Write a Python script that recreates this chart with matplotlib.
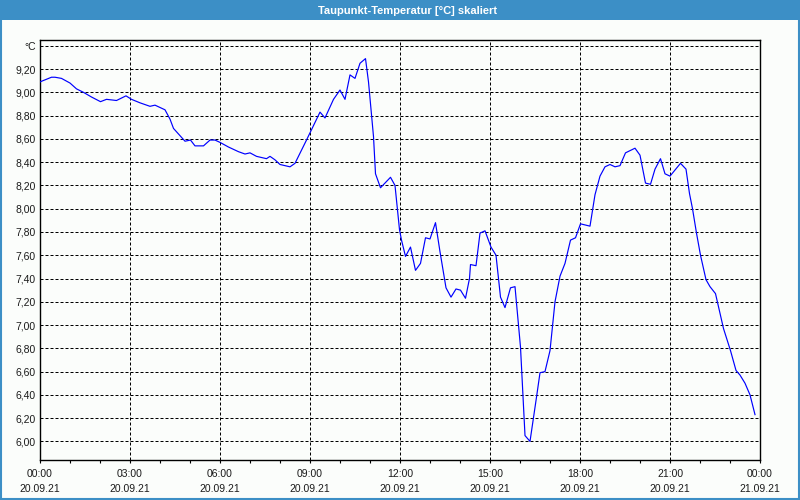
import numpy as np
import matplotlib
matplotlib.use("Agg")
import matplotlib.pyplot as plt
from matplotlib.patches import Rectangle
from matplotlib.ticker import FixedLocator, MultipleLocator

# Messzeitpunkte in Minuten ab 20.09.21 00:00
minuten = [0, 23, 30, 43, 60, 73, 87, 103, 121, 133, 153, 172, 183, 200, 220, 230,
           240, 250, 260, 267, 290, 301, 310, 327, 340, 350, 360, 377, 397, 410, 420,
           433, 453, 460, 470, 480, 500, 510, 533, 560, 570, 587, 600, 610, 620, 630,
           640, 651, 657, 667, 671, 681, 701, 710, 719, 723, 731, 741, 751, 761, 771,
           780, 791, 800, 812, 822, 832, 841, 851, 859, 861, 872, 880, 890, 902, 912,
           921, 930, 941, 950, 961, 970, 980, 993, 1000, 1010, 1020, 1030, 1040, 1050,
           1061, 1071, 1081, 1100, 1110, 1120, 1130, 1140, 1150, 1160, 1171, 1190, 1200,
           1211, 1221, 1230, 1241, 1250, 1260, 1281, 1292, 1299, 1305, 1313, 1321, 1332,
           1340, 1351, 1367, 1381, 1392, 1400, 1410, 1420, 1430]

# Taupunkt in °C
taupunkt = [9.09, 9.13, 9.13, 9.12, 9.08, 9.03, 9.00, 8.96, 8.92, 8.94, 8.93, 8.97, 8.94,
            8.91, 8.88, 8.89, 8.87, 8.85, 8.77, 8.69, 8.58, 8.59, 8.54, 8.54, 8.59, 8.59,
            8.57, 8.53, 8.49, 8.47, 8.48, 8.45, 8.43, 8.45, 8.42, 8.38, 8.36, 8.39, 8.59,
            8.83, 8.78, 8.94, 9.02, 8.94, 9.15, 9.12, 9.25, 9.29, 9.09, 8.62, 8.30, 8.18,
            8.27, 8.20, 7.82, 7.73, 7.59, 7.67, 7.47, 7.53, 7.75, 7.74, 7.88, 7.63, 7.32,
            7.24, 7.31, 7.30, 7.23, 7.40, 7.52, 7.51, 7.79, 7.81, 7.67, 7.60, 7.24, 7.15,
            7.32, 7.33, 6.81, 6.05, 6.00, 6.38, 6.59, 6.60, 6.78, 7.20, 7.42, 7.53, 7.73,
            7.75, 7.87, 7.85, 8.12, 8.28, 8.36, 8.38, 8.36, 8.37, 8.48, 8.52, 8.46, 8.22,
            8.21, 8.34, 8.43, 8.30, 8.28, 8.39, 8.34, 8.13, 8.00, 7.79, 7.60, 7.39, 7.33,
            7.27, 6.97, 6.78, 6.61, 6.57, 6.50, 6.40, 6.23]

y_ticks = [6.0, 6.2, 6.4, 6.6, 6.8, 7.0, 7.2, 7.4, 7.6, 7.8, 8.0, 8.2, 8.4, 8.6, 8.8,
           9.0, 9.2, 9.4]
x_tick_labels = ["00:00\n20.09.21", "03:00\n20.09.21", "06:00\n20.09.21",
                 "09:00\n20.09.21", "12:00\n20.09.21", "15:00\n20.09.21",
                 "18:00\n20.09.21", "21:00\n20.09.21", "00:00\n21.09.21"]

titel = "Taupunkt-Temperatur [°C] skaliert"

# Farben
bar_blue = '#3c8fc6'
bg_color = '#fbfdfb'
text_color = '#1a1a1a'

plt.rcParams['font.family'] = ['Liberation Sans', 'DejaVu Sans']

fig = plt.figure(figsize=(8, 5), dpi=100)
fig.patch.set_facecolor(bg_color)

# Titelleiste und Rahmen
fig.patches.append(Rectangle((0, 0.96), 1, 0.04, transform=fig.transFigure,
                             facecolor=bar_blue, edgecolor='none', zorder=0))
fig.patches.append(Rectangle((0.001, 0.002), 0.998, 0.997, transform=fig.transFigure,
                             facecolor='none', edgecolor=bar_blue, linewidth=1.5, zorder=1))
fig.text(0.51, 0.979, titel, color='white', fontsize=8, fontweight='bold',
         ha='center', va='center')

ax = fig.add_axes([0.05, 0.08, 0.90, 0.84])
ax.set_facecolor(bg_color)

stunden = np.array(minuten) / 60.0
ax.plot(stunden, taupunkt, color='#0000ff', linewidth=0.85, zorder=3)

ax.set_xlim(0, 24)
ax.set_ylim(5.84, 9.45)

# Achsen
ax.xaxis.set_major_locator(FixedLocator(np.arange(0, 25, 3)))
ax.xaxis.set_minor_locator(MultipleLocator(1))
ax.set_xticklabels(x_tick_labels, linespacing=1.65)
ax.set_yticks(y_ticks)
ax.set_yticklabels([f"{v:.2f}".replace('.', ',') for v in y_ticks[:-1]] + ["°C"])

ax.tick_params(axis='x', which='both', direction='out', length=2.5, width=0.8,
               colors='black', labelcolor=text_color, labelsize=7.5, pad=4)
ax.tick_params(axis='y', which='both', length=0, labelcolor=text_color,
               labelsize=7.5, pad=3)

ax.grid(True, which='major', color='black', linestyle=(0, (3, 2)), linewidth=0.72)
for spine in ax.spines.values():
    spine.set_color('black')
    spine.set_linewidth(1.0)

plt.savefig("out.png", dpi=100, facecolor=fig.get_facecolor())
plt.close()
